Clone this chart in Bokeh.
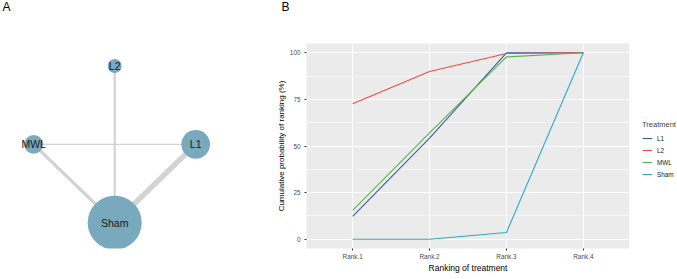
import math
from bokeh.plotting import figure
from bokeh.layouts import row
from bokeh.models import (Range1d, FixedTicker, Legend, LegendItem, Label, ColumnDataSource)
from bokeh.embed import file_html
from bokeh.resources import INLINE

# ---------------- data ----------------
# Panel A: network of treatments
treatments = ["L2", "L1", "Sham", "MWL"]          # clockwise from top
sample_sizes = [19, 80, 285, 35]
edge_from = ["MWL", "L2", "MWL", "L1"]
edge_to = ["L1", "Sham", "Sham", "Sham"]
n_studies = [1, 2, 3, 5]

# Panel B: cumulative ranking probabilities
rank_labels = ["Rank.1", "Rank.2", "Rank.3", "Rank.4"]
series_names = ["L1", "L2", "MWL", "Sham"]
l1_vals = [12.2, 54.2, 100.0, 100.0]
l2_vals = [72.7, 90.0, 99.6, 100.0]
mwl_vals = [15.5, 57.0, 97.8, 100.0]
sham_vals = [0.0, 0.0, 3.6, 100.0]
y_ticks = [0, 25, 50, 75, 100]

FONT = "Liberation Sans"

H = 275
TOP, BOTTOM_BORDER = 43, 20
FRAME_BOTTOM = H - BOTTOM_BORDER

# ---------------- panel A ----------------
W1 = 270
p1 = figure(width=W1, height=H, output_backend="svg", toolbar_location=None,
            x_range=Range1d(0, W1), y_range=Range1d(FRAME_BOTTOM, TOP),
            x_axis_type=None, y_axis_type=None,
            min_border_left=0, min_border_right=0,
            min_border_top=TOP, min_border_bottom=BOTTOM_BORDER)
p1.outline_line_color = None
p1.background_fill_color = "white"
p1.border_fill_color = "white"

cx, cy, R = 114.2, 147.3, 81.0
pos = {}
for i, t in enumerate(treatments):
    ang = math.pi / 2 - i * 2 * math.pi / len(treatments)
    pos[t] = (cx + R * math.cos(ang), cy - R * math.sin(ang))

edge_src = ColumnDataSource(dict(
    x0=[pos[a][0] for a in edge_from], y0=[pos[a][1] for a in edge_from],
    x1=[pos[b][0] for b in edge_to], y1=[pos[b][1] for b in edge_to],
    w=[1.1 * n for n in n_studies]))
p1.segment(x0="x0", y0="y0", x1="x1", y1="y1", line_width="w",
           line_color="#D3D3D3", source=edge_src)

node_src = ColumnDataSource(dict(
    x=[pos[t][0] for t in treatments], y=[pos[t][1] for t in treatments],
    s=[2 * 1.6 * math.sqrt(n) for n in sample_sizes], name=treatments))
p1.scatter(x="x", y="y", size="s", fill_color="#78A9BC", line_color=None,
           source=node_src)
p1.text(x="x", y="y", text="name", source=node_src, text_align="center",
        text_baseline="middle", text_font_size="10.5px", text_color="#1A1A1A",
        text_font={"value": FONT})

p1.add_layout(Label(x=2, y=TOP + 1, x_units="screen", y_units="screen",
                    text="A", text_font=FONT, text_font_size="12px",
                    text_baseline="top", text_align="left", text_color="black"),
              "above")

# ---------------- panel B ----------------
FRAME_LEFT, FRAME_RIGHT = 306, 629
W2 = FRAME_RIGHT - W1
p2 = figure(width=W2, height=H, output_backend="svg", toolbar_location=None,
            x_range=Range1d(0.4, 4.6), y_range=Range1d(-5, 105),
            min_border_left=FRAME_LEFT - W1, min_border_right=0,
            min_border_top=TOP, min_border_bottom=BOTTOM_BORDER)
p2.outline_line_color = None
p2.background_fill_color = "#EBEBEB"
p2.border_fill_color = "white"

xs = list(range(1, len(rank_labels) + 1))
colors = {"L1": "#3B5BA8", "L2": "#EE4B45", "MWL": "#55B553", "Sham": "#2AA9C9"}
vals = {"L1": l1_vals, "L2": l2_vals, "MWL": mwl_vals, "Sham": sham_vals}
for name in series_names:
    p2.line(xs, vals[name], line_color=colors[name], line_width=1.1)

p2.xaxis.ticker = FixedTicker(ticks=xs)
p2.xaxis.major_label_overrides = {x: lab for x, lab in zip(xs, rank_labels)}
p2.xaxis.axis_label = "Ranking of treatment"
p2.yaxis.ticker = FixedTicker(ticks=y_ticks,
                              minor_ticks=[12.5, 37.5, 62.5, 87.5])
p2.yaxis.axis_label = "Cumulative probability of ranking (%)"

for ax in (p2.xaxis[0], p2.yaxis[0]):
    ax.axis_line_color = None
    ax.major_tick_line_color = "#333333"
    ax.major_tick_out = 2
    ax.major_tick_in = 0
    ax.minor_tick_line_color = None
    ax.major_label_text_font = FONT
    ax.major_label_text_font_size = "6.4px"
    ax.major_label_text_color = "#4D4D4D"
    ax.major_label_standoff = 2
    ax.axis_label_text_font = FONT
    ax.axis_label_text_font_size = "8px"
    ax.axis_label_text_font_style = "normal"
    ax.axis_label_text_color = "black"
    ax.axis_label_standoff = 1
p2.xaxis[0].axis_label_standoff = 0
p2.xaxis[0].axis_label_text_font_size = "8.5px"

p2.xgrid.grid_line_color = "white"
p2.xgrid.grid_line_width = 1
p2.ygrid.grid_line_color = "white"
p2.ygrid.grid_line_width = 1
p2.ygrid.minor_grid_line_color = "white"
p2.ygrid.minor_grid_line_width = 0.5

p2.add_layout(Label(x=281 - FRAME_LEFT, y=TOP + 1, x_units="screen",
                    y_units="screen", text="B", text_font=FONT,
                    text_font_size="12px", text_baseline="top",
                    text_align="left", text_color="black"), "above")

# ---------------- legend panel ----------------
W3 = 677 - FRAME_RIGHT
p3 = figure(width=W3, height=H, output_backend="svg", toolbar_location=None,
            x_range=Range1d(0, 1), y_range=Range1d(0, 1),
            x_axis_type=None, y_axis_type=None,
            min_border_left=0, min_border_right=0,
            min_border_top=TOP, min_border_bottom=BOTTOM_BORDER)
p3.outline_line_color = None
p3.background_fill_color = "white"
p3.border_fill_color = "white"
items = []
for name in series_names:
    r = p3.line(x=[math.nan, math.nan], y=[math.nan, math.nan],
                line_color=colors[name], line_width=1.1)
    items.append(LegendItem(label=name, renderers=[r]))
legend = Legend(items=items, location=(13, FRAME_BOTTOM - 187), title="Treatment",
                title_text_font=FONT, title_text_font_size="7.5px",
                title_text_font_style="normal", title_standoff=3,
                label_text_font=FONT, label_text_font_size="6.4px",
                label_text_color="#1A1A1A", label_standoff=5,
                glyph_width=10, glyph_height=12, label_height=12,
                spacing=0, padding=0, margin=0,
                border_line_color=None, background_fill_alpha=0)
p3.add_layout(legend, "center")

layout = row(p1, p2, p3)
open("out.html", "w").write(file_html(layout, INLINE))
